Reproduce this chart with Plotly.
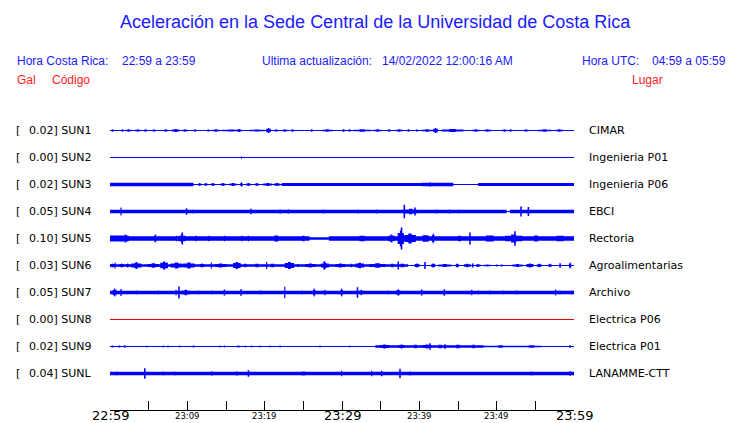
import plotly.graph_objects as go

W, H = 740, 423

# ---------------- data ----------------
codes = ["SUN1", "SUN2", "SUN3", "SUN4", "SUN5", "SUN6", "SUN7", "SUN8", "SUN9", "SUNL"]
gal = ["0.02", "0.00", "0.02", "0.05", "0.10", "0.03", "0.05", "0.00", "0.02", "0.04"]
places = ["CIMAR", "Ingenieria P01", "Ingenieria P06", "EBCI", "Rectoria",
          "Agroalimentarias", "Archivo", "Electrica P06", "Electrica P01", "LANAMME-CTT"]
trace_colors = ["#0000ff"] * 7 + ["#e00000"] + ["#0000ff"] * 2

tick_minutes = list(range(0, 61, 5))
label_minutes = [0, 10, 20, 30, 40, 50, 60]
label_texts = ["22:59", "23:09", "23:19", "23:29", "23:39", "23:49", "23:59"]
label_big = [True, False, False, True, False, False, True]

# envelope of each trace: base segments [start_min, end_min, half_amp_px]
base_sun1 = [[0, 60, 0.5]]
base_sun2 = [[0, 60, 0.5]]
base_sun3 = [[0, 10.8, 1.7], [10.8, 22.2, 0.5], [22.2, 40.3, 1.5], [40.3, 44.4, 1.7],
             [44.4, 47.6, 0.5], [47.6, 60, 1.6]]
base_sun4 = [[0, 51.3, 1.7], [51.3, 51.7, 0.5], [51.7, 60, 1.7]]
base_sun5 = [[0, 2.4, 3.0], [2.4, 25.8, 2.3], [25.8, 28.3, 1.3], [28.3, 60, 2.3]]
base_sun6 = [[0, 38.4, 1.2], [38.4, 60, 0.5]]
base_sun7 = [[0, 60, 1.7]]
base_sun8 = [[0, 60, 0.5]]
base_sun9 = [[0, 34.3, 0.5], [34.3, 48.3, 1.2], [48.3, 55.8, 0.8], [55.8, 60, 0.5]]
base_sunl = [[0, 60, 1.7]]

# bursts: [center_min, width_min, peak_half_amp_px]
bursts_sun1 = [[0.35, 0.35, 1.2], [1.6, 0.3, 1.2], [2.4, 0.8, 1.2], [3.6, 0.7, 1.2], [4.6, 0.25, 1.2],
               [5.7, 0.4, 1.2], [7.2, 0.6, 1.2], [8.5, 1.0, 1.4], [9.7, 0.7, 1.2], [11.0, 0.4, 1.2],
               [12.7, 0.3, 1.2], [13.7, 1.0, 1.2], [15.7, 2.5, 1.0], [16.7, 0.6, 1.5], [19.0, 2.0, 1.1],
               [20.5, 0.6, 2.5], [21.5, 0.5, 1.2], [22.6, 0.7, 1.2], [23.6, 0.25, 1.2], [26.1, 0.2, 1.2],
               [28.1, 1.4, 1.2], [30.2, 0.25, 1.2], [31.0, 0.4, 1.2], [32.6, 2.3, 1.2], [34.6, 1.0, 1.2],
               [36.1, 0.5, 1.2], [37.4, 1.0, 1.2], [38.6, 0.4, 1.2], [39.7, 0.3, 1.2], [41.0, 1.5, 1.2],
               [42.1, 0.6, 2.5], [44.3, 2.8, 1.5], [47.3, 1.0, 1.2], [48.8, 1.0, 1.2], [51.0, 0.6, 1.2],
               [51.8, 0.4, 1.2], [53.8, 0.6, 1.2], [56.2, 1.7, 1.2], [58.1, 1.0, 1.2]]
bursts_sun2 = [[17.0, 0.12, 1.2]]
bursts_sun3 = [[11.6, 0.4, 1.5], [12.4, 0.4, 1.5], [13.3, 0.5, 1.5], [14.6, 0.6, 1.5], [15.9, 0.9, 1.5],
               [17.0, 0.3, 2.2], [17.9, 0.6, 1.5], [19.0, 0.5, 1.5], [20.4, 1.2, 1.5], [21.6, 0.8, 1.5],
               [41.4, 0.3, 2.3]]
bursts_sun4 = [[0.65, 0.3, 1.8], [1.42, 0.15, 4.0], [3.8, 0.6, 1.8], [6.77, 0.15, 1.8], [7.33, 0.15, 1.8],
               [8.4, 0.15, 1.8], [9.9, 0.2, 3.3], [10.7, 0.4, 2.0], [11.64, 0.15, 1.8], [12.5, 0.15, 1.8],
               [13.15, 0.15, 1.8], [14.2, 0.4, 1.8], [15.5, 0.15, 1.8], [16.5, 0.15, 1.8], [17.03, 0.15, 1.8],
               [18.23, 0.2, 2.7], [19.6, 0.15, 1.8], [20.26, 0.15, 1.8], [22.0, 0.15, 2.3], [23.06, 0.15, 2.3],
               [25.2, 0.15, 1.5], [27.6, 0.2, 2.0], [32.1, 0.15, 2.0], [34.5, 0.2, 2.0], [38.06, 0.2, 6.7],
               [38.9, 1.5, 2.7], [39.44, 0.2, 4.0], [42.24, 0.2, 2.0], [43.9, 0.8, 2.0], [45.13, 0.15, 2.0],
               [47.63, 0.15, 1.5], [53.15, 0.2, 5.0], [54.1, 0.2, 4.5], [55.8, 0.15, 1.5], [57.1, 0.15, 1.5],
               [58.8, 0.15, 1.5]]
bursts_sun5 = [[1.0, 1.5, 3.0], [2.0, 0.2, 4.0], [5.8, 0.5, 3.3], [5.9, 0.15, 4.0], [8.6, 0.5, 2.7],
               [9.35, 0.2, 6.0], [9.3, 0.9, 4.0], [11.1, 0.6, 2.7], [12.8, 0.6, 2.7], [14.8, 0.6, 2.7],
               [17.03, 0.15, 2.7], [17.9, 0.15, 2.7], [21.5, 1.7, 3.0], [25.0, 1.0, 2.7], [32.6, 2.3, 2.7],
               [36.4, 0.8, 4.0], [37.7, 0.2, 11.0], [37.6, 0.8, 8.0], [38.8, 1.5, 5.0], [40.8, 2.6, 3.3],
               [41.8, 0.3, 5.0], [45.2, 1.3, 2.7], [46.55, 0.2, 6.0], [49.1, 3.4, 3.0], [52.2, 2.2, 4.0],
               [52.37, 0.2, 7.3], [55.1, 1.7, 3.0], [58.2, 3.0, 2.7]]
bursts_sun6 = [[0.3, 0.5, 2.0], [0.65, 0.15, 3.0], [1.5, 0.5, 2.0], [2.3, 0.4, 2.0], [3.4, 1.3, 3.0],
               [3.45, 0.3, 3.4], [5.6, 1.5, 2.3], [7.0, 1.0, 4.0], [8.6, 1.5, 3.0], [10.2, 1.5, 3.0],
               [11.9, 0.6, 2.0], [13.1, 0.15, 3.0], [14.3, 1.5, 2.0], [16.4, 1.0, 3.4], [17.5, 1.0, 1.7],
               [19.0, 1.5, 1.7], [20.26, 0.15, 3.4], [21.0, 1.5, 1.7], [23.2, 1.2, 3.4], [24.3, 0.6, 1.4],
               [25.9, 1.3, 2.0], [27.8, 1.0, 3.0], [27.7, 0.2, 4.3], [29.8, 1.3, 2.0], [31.2, 0.6, 1.7],
               [32.3, 1.1, 2.7], [34.6, 2.1, 2.3], [36.5, 1.0, 1.7], [37.28, 0.2, 4.0], [37.8, 1.5, 1.7],
               [39.7, 0.6, 2.0], [40.73, 0.2, 3.4], [41.8, 0.5, 2.3], [43.3, 1.7, 1.4], [44.9, 0.4, 2.0],
               [46.2, 0.9, 1.7], [46.9, 0.2, 2.0], [47.6, 0.6, 1.4], [48.8, 0.8, 1.0], [50.0, 0.2, 1.0],
               [50.65, 0.2, 1.0], [52.7, 1.3, 1.4], [54.3, 0.9, 2.0], [55.5, 0.6, 1.7], [56.9, 0.4, 1.7],
               [58.2, 0.2, 2.3], [59.5, 0.3, 3.0]]
bursts_sun7 = [[0.6, 0.5, 4.0], [1.42, 0.2, 3.3], [3.45, 0.15, 2.0], [6.25, 0.15, 2.0], [8.53, 0.15, 2.7],
               [8.92, 0.2, 6.0], [9.8, 1.0, 2.7], [11.5, 0.15, 2.0], [13.15, 0.15, 2.0], [14.8, 0.2, 3.0],
               [16.94, 0.2, 3.3], [19.5, 0.9, 2.0], [22.6, 0.15, 5.7], [24.8, 0.15, 2.0], [26.4, 0.3, 4.0],
               [27.8, 0.3, 2.7], [29.96, 0.3, 4.0], [32.0, 0.2, 5.3], [32.5, 0.5, 2.7], [35.9, 0.15, 2.0],
               [37.28, 0.5, 3.3], [40.3, 0.2, 3.0], [43.23, 0.2, 3.3], [46.77, 0.3, 2.7], [47.63, 0.15, 2.0],
               [49.14, 0.2, 2.0], [50.86, 0.15, 2.0], [52.6, 1.0, 2.0], [57.63, 0.3, 3.0], [58.2, 0.2, 2.0],
               [59.7, 0.2, 2.0]]
bursts_sun8 = []
bursts_sun9 = [[0.3, 0.2, 1.0], [1.2, 0.3, 1.0], [1.9, 0.3, 1.2], [4.75, 0.15, 1.0], [6.9, 0.15, 1.0],
               [7.5, 0.15, 1.0], [9.0, 0.15, 1.0], [10.8, 0.2, 1.0], [14.2, 0.15, 1.0], [14.8, 0.15, 1.0],
               [16.6, 0.4, 1.0], [17.5, 0.15, 1.0], [18.3, 0.15, 1.0], [19.4, 0.15, 1.0], [20.7, 0.15, 1.0],
               [22.0, 0.15, 1.0], [27.16, 0.15, 1.0], [31.0, 0.15, 1.0], [35.5, 1.2, 2.0], [37.7, 0.8, 2.0],
               [39.5, 1.2, 1.7], [41.0, 1.2, 2.0], [41.38, 0.2, 3.3], [42.7, 1.5, 1.7], [43.32, 0.2, 2.3],
               [45.0, 1.5, 1.7], [47.0, 1.0, 1.7], [50.5, 2.0, 1.2], [54.5, 2.5, 1.2], [59.5, 0.2, 1.3]]
bursts_sunl = [[0.87, 0.15, 2.0], [4.5, 0.2, 5.3], [6.9, 0.15, 2.0], [8.4, 0.15, 2.0], [13.15, 0.15, 2.3],
               [16.4, 0.3, 2.3], [17.9, 0.2, 3.3], [25.0, 1.5, 2.0], [29.96, 0.15, 2.7], [33.84, 0.15, 2.7],
               [35.13, 0.2, 2.7], [37.5, 0.2, 4.7], [38.8, 0.6, 2.0], [40.95, 0.15, 1.8], [54.5, 0.2, 2.0],
               [59.5, 0.2, 2.3]]

bases = [base_sun1, base_sun2, base_sun3, base_sun4, base_sun5,
         base_sun6, base_sun7, base_sun8, base_sun9, base_sunl]
bursts = [bursts_sun1, bursts_sun2, bursts_sun3, bursts_sun4, bursts_sun5,
          bursts_sun6, bursts_sun7, bursts_sun8, bursts_sun9, bursts_sunl]

# ---------------- layout helpers ----------------
ROW_PX = 27.0          # pixels between traces
FIRST_ROW_PX = 130.5   # pixel of first trace
PX = 1.0 / ROW_PX      # one pixel in row units
y_top = -FIRST_ROW_PX / ROW_PX
y_bottom = (H - FIRST_ROW_PX) / ROW_PX
MIN_W = 0.13           # about one pixel in minutes


def px_x(p):
    return p / W


def px_y(p):
    return 1 - p / H


fig = go.Figure()

for i in range(len(codes)):
    segs = [list(s) for s in bases[i]]
    for c, w, a in bursts[i]:
        if w <= 0.25:
            segs.append([c - w / 2, c + w / 2, a])
        else:
            # spindle-like burst: wide lower body, narrow tall core
            segs.append([c - w / 2, c + w / 2, a * 0.7])
            cw = max(w * 0.3, MIN_W)
            segs.append([c - cw / 2, c + cw / 2, a])
    xs, ys = [], []
    for x0, x1, a in segs:
        if a <= 0.5:
            continue
        h = a * PX
        xs += [x0, x1, x1, x0, x0, None]
        ys += [i - h, i - h, i + h, i + h, i - h, None]
    col = trace_colors[i]
    if xs:
        fig.add_trace(go.Scatter(x=xs, y=ys, mode="lines", fill="toself", fillcolor=col,
                                 line=dict(width=0, color=col), hoverinfo="skip", showlegend=False))
    fig.add_trace(go.Scatter(x=[0, 60], y=[i, i], mode="lines", line=dict(width=1, color=col),
                             hoverinfo="skip", showlegend=False))

ann = []
BLUE = "#1a1aff"
RED = "#ff1a1a"
SANS = "Liberation Sans, Arial, sans-serif"
DV = "DejaVu Sans, sans-serif"


def text(s, x, y, size, color, family, anchor="left"):
    ann.append(dict(text=s, x=px_x(x), y=px_y(y), xref="paper", yref="paper", showarrow=False,
                    xanchor=anchor, yanchor="middle", font=dict(size=size, color=color, family=family)))


text("Aceleración en la Sede Central de la Universidad de Costa Rica", 375, 22, 18, BLUE, SANS, "center")
text("Hora Costa Rica:", 15, 61, 12, BLUE, SANS)
text("22:59 a 23:59", 120, 61, 12, BLUE, SANS)
text("Ultima actualización:", 260, 61, 12, BLUE, SANS)
text("14/02/2022 12:00:16 AM", 380, 61, 12, BLUE, SANS)
text("Hora UTC:", 580, 61, 12, BLUE, SANS)
text("04:59 a 05:59", 650, 61, 12, BLUE, SANS)
text("Gal", 15, 80, 12, RED, SANS)
text("Código", 50, 80, 12, RED, SANS)
text("Lugar", 630, 80, 12, RED, SANS)

for i in range(len(codes)):
    yp = FIRST_ROW_PX + i * ROW_PX
    text("[", 14, yp, 11, "black", DV)
    text(gal[i] + "] " + codes[i], 27, yp, 11, "black", DV)
    text(places[i], 587, yp, 11, "black", DV)

for m, t, big in zip(label_minutes, label_texts, label_big):
    ann.append(dict(text=t, x=m, y=px_y(415.5), xref="x", yref="paper", showarrow=False,
                    xanchor="center", yanchor="middle",
                    font=dict(size=13 if big else 8.5, color="black", family=DV)))

fig.update_layout(
    width=W, height=H, margin=dict(l=0, r=0, t=0, b=0),
    paper_bgcolor="white", plot_bgcolor="white", showlegend=False,
    annotations=ann,
    xaxis=dict(domain=[110 / W, 574 / W], range=[0, 60], anchor="free", position=px_y(409.5),
               showline=True, linecolor="black", linewidth=1, ticks="inside", ticklen=9,
               tickwidth=1, tickcolor="black", tickvals=tick_minutes, showticklabels=False,
               showgrid=False, zeroline=False, fixedrange=True, automargin=False),
    yaxis=dict(domain=[0, 1], range=[y_bottom, y_top], visible=False, showgrid=False,
               zeroline=False, fixedrange=True, automargin=False),
)

fig.write_html("out.html", config={"displayModeBar": False},
               post_script="document.body.style.margin='0';document.body.style.overflow='hidden';")
